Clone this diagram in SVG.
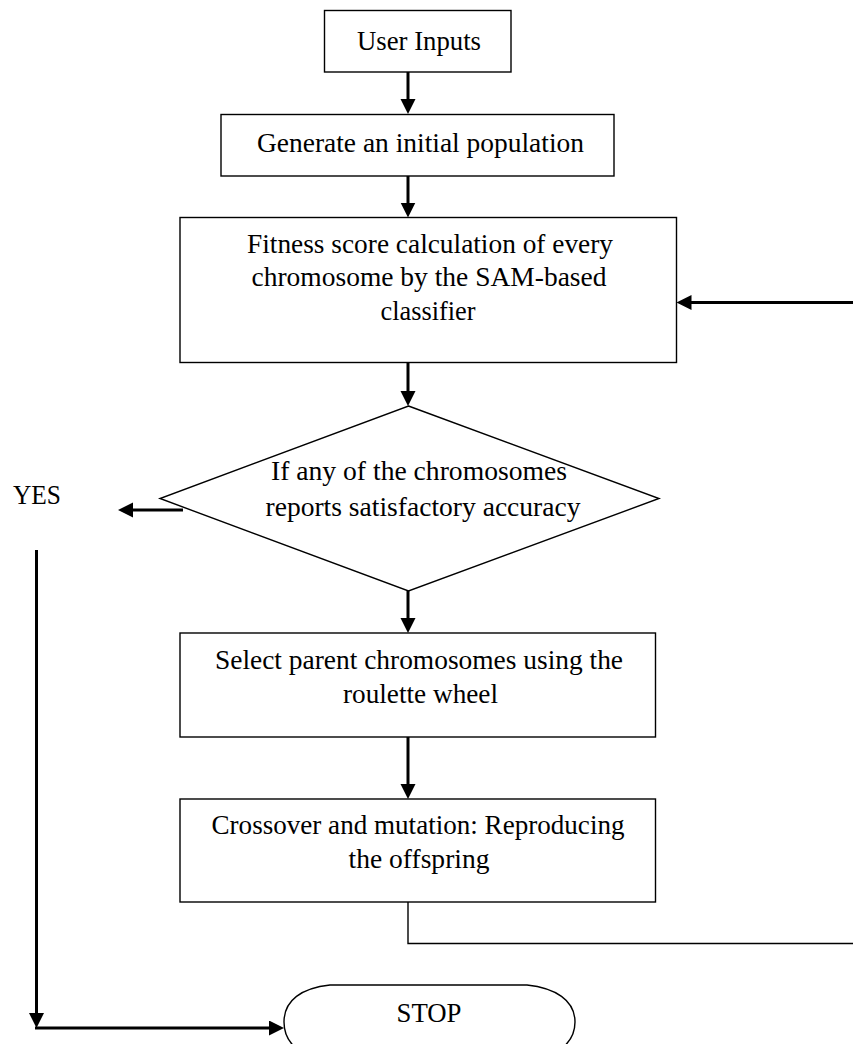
<svg xmlns="http://www.w3.org/2000/svg" width="853" height="1044" viewBox="0 0 853 1044">
<defs>
<style>
.box{fill:#fff;stroke:#000;stroke-width:1.4}
.t{font-family:"Liberation Serif","Times New Roman",serif;font-size:27px;fill:#000;text-anchor:middle}
.arr{stroke:#000;stroke-width:3;fill:none}
.thin{stroke:#000;stroke-width:1.4;fill:none}
</style>
<marker id="ah" markerUnits="userSpaceOnUse" markerWidth="16" markerHeight="16" refX="5" refY="7.5" orient="auto">
<path d="M0,0 L15,7.5 L0,15 Z" fill="#000"/>
</marker>
</defs>
<rect width="853" height="1044" fill="#fff"/>

<g id="connectors">
<line class="arr" x1="408" y1="72" x2="408" y2="104" marker-end="url(#ah)"/>
<line class="arr" x1="408" y1="176" x2="408" y2="207.5" marker-end="url(#ah)"/>
<line class="arr" x1="408" y1="362.5" x2="408" y2="396" marker-end="url(#ah)"/>
<line class="arr" x1="408" y1="591" x2="408" y2="623" marker-end="url(#ah)"/>
<line class="arr" x1="408" y1="737" x2="408" y2="789" marker-end="url(#ah)"/>
<line class="arr" x1="853" y1="302.5" x2="686.5" y2="302.5" marker-end="url(#ah)"/>
<line class="arr" x1="183" y1="510" x2="128" y2="510" marker-end="url(#ah)"/>
<line class="arr" x1="36.5" y1="550" x2="36.5" y2="1018" marker-end="url(#ah)"/>
<line class="arr" x1="35" y1="1028" x2="274" y2="1028" marker-end="url(#ah)"/>
<polyline class="thin" points="408,902 408,943.5 853,943.5"/>
<text class="t" x="37" y="504" textLength="48" lengthAdjust="spacingAndGlyphs">YES</text>
</g>

<g id="user-inputs">
<rect class="box" x="324.5" y="10.5" width="186.5" height="61.5"/>
<text class="t" x="419" y="49.5" textLength="124" lengthAdjust="spacingAndGlyphs">User Inputs</text>
</g>

<g id="generate">
<rect class="box" x="221" y="114.5" width="393" height="61.5"/>
<text class="t" x="420.5" y="151.5" textLength="327" lengthAdjust="spacingAndGlyphs">Generate an initial population</text>
</g>

<g id="fitness">
<rect class="box" x="180" y="217.5" width="496.5" height="145"/>
<text class="t" x="430" y="252.5" textLength="366" lengthAdjust="spacingAndGlyphs">Fitness score calculation of every</text>
<text class="t" x="429" y="285.5" textLength="355" lengthAdjust="spacingAndGlyphs">chromosome by the SAM-based</text>
<text class="t" x="428" y="319.5" textLength="95" lengthAdjust="spacingAndGlyphs">classifier</text>
</g>

<g id="decision">
<polygon class="box" points="408.5,406 659,498.5 408.5,591 160,498.5"/>
<text class="t" x="419" y="479.5" textLength="296" lengthAdjust="spacingAndGlyphs">If any of the chromosomes</text>
<text class="t" x="423" y="515.5" textLength="315" lengthAdjust="spacingAndGlyphs">reports satisfactory accuracy</text>
</g>

<g id="select">
<rect class="box" x="180" y="633" width="475.5" height="104"/>
<text class="t" x="419" y="669" textLength="408" lengthAdjust="spacingAndGlyphs">Select parent chromosomes using the</text>
<text class="t" x="420.5" y="702.5" textLength="155" lengthAdjust="spacingAndGlyphs">roulette wheel</text>
</g>

<g id="crossover">
<rect class="box" x="180" y="799" width="475.5" height="103"/>
<text class="t" x="418" y="833.5" textLength="413" lengthAdjust="spacingAndGlyphs">Crossover and mutation: Reproducing</text>
<text class="t" x="419" y="868" textLength="141" lengthAdjust="spacingAndGlyphs">the offspring</text>
</g>

<g id="stop">
<path class="box" d="M330,985 H527 C555,988 575,1000 575,1022 C575,1044 555,1058 527,1060 H330 C302,1058 284,1044 284,1022 C284,1000 302,988 330,985 Z"/>
<text class="t" x="429" y="1021.5" textLength="65" lengthAdjust="spacingAndGlyphs">STOP</text>
</g>
</svg>
